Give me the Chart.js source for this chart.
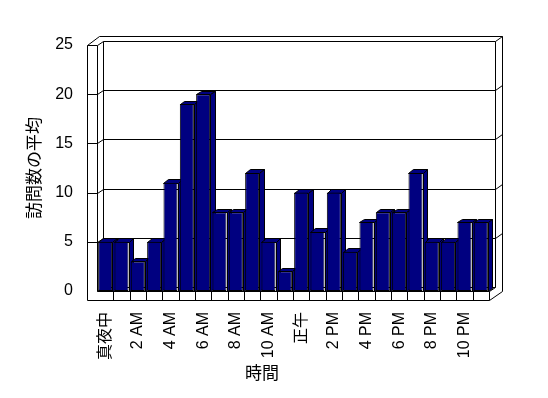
<!DOCTYPE html>
<html>
<head>
<meta charset="utf-8">
<script src="https://cdn.jsdelivr.net/npm/chart.js@4"></script>
<style>
  body { margin: 0; background: #fff; }
</style>
</head>
<body>
<canvas id="chart" width="548" height="398"></canvas>
<script>
const hours = [
  '真夜中', '1 AM', '2 AM', '3 AM', '4 AM', '5 AM', '6 AM', '7 AM', '8 AM', '9 AM', '10 AM', '11 AM',
  '正午', '1 PM', '2 PM', '3 PM', '4 PM', '5 PM', '6 PM', '7 PM', '8 PM', '9 PM', '10 PM', '11 PM'
];
const visits = [5, 5, 3, 5, 11, 19, 20, 8, 8, 12, 5, 2, 10, 6, 10, 4, 7, 8, 8, 12, 5, 5, 7, 7];
const yTicks = [0, 5, 10, 15, 20, 25];

const FONT = '"Liberation Sans", "Noto Sans CJK JP", sans-serif';

// oblique depth offsets for walls and bars
const WALL_IN = { x: 6, y: -4 };
const WALL_OUT = { x: 12.5, y: -9 };
const BAR_D = { x: 4.5, y: -3.5 };

const px = (v) => Math.round(v) + 0.5;

const box3d = {
  id: 'box3d',
  beforeDatasetsDraw(chart) {
    const { ctx, chartArea } = chart;
    const yScale = chart.scales.y;
    const xScale = chart.scales.x;
    const L = chartArea.left, R = chartArea.right;
    const T = yScale.getPixelForValue(yTicks[yTicks.length - 1]);
    const B = yScale.getPixelForValue(0);
    const LO = L - 10.5;
    const FB = B + 9;

    ctx.save();
    ctx.strokeStyle = '#000';
    ctx.lineWidth = 1;

    const line = (pts) => {
      ctx.beginPath();
      pts.forEach((p, i) => {
        if (i === 0) ctx.moveTo(px(p[0]), px(p[1]));
        else ctx.lineTo(px(p[0]), px(p[1]));
      });
      ctx.stroke();
    };

    // outer frame
    line([
      [LO, T], [LO + WALL_OUT.x, T + WALL_OUT.y], [R + WALL_OUT.x, T + WALL_OUT.y],
      [R + WALL_OUT.x, FB + WALL_OUT.y], [R, FB], [LO, FB], [LO, T]
    ]);

    // left wall inner edge and back wall edges
    line([[L, T], [L, B]]);
    line([[L + WALL_IN.x, T + WALL_IN.y], [L + WALL_IN.x, B + WALL_IN.y]]);
    line([[R + WALL_IN.x, T + WALL_IN.y], [R + WALL_IN.x, B + WALL_IN.y]]);

    // gridlines wrapping left wall, back wall and right edge
    yTicks.forEach((v) => {
      const y = yScale.getPixelForValue(v);
      if (v === 0) {
        line([[L, y], [R, y], [R + WALL_IN.x, y + WALL_IN.y]]);
        line([[L, y], [L + WALL_IN.x, y + WALL_IN.y], [R + WALL_IN.x, y + WALL_IN.y]]);
        return;
      }
      line([
        [LO, y], [L, y], [L + WALL_IN.x, y + WALL_IN.y],
        [R + WALL_IN.x, y + WALL_IN.y], [R + WALL_OUT.x, y + WALL_OUT.y]
      ]);
    });

    // floor front face dividers
    line([[R, B], [R, FB]]);
    for (let k = 1; k < hours.length; k++) {
      const x = (xScale.getPixelForTick(k - 1) + xScale.getPixelForTick(k)) / 2;
      line([[x, B], [x, FB]]);
    }

    // top and side faces of each bar
    const meta = chart.getDatasetMeta(0);
    ctx.fillStyle = '#000080';
    meta.data.forEach((bar) => {
      const x0 = bar.x - bar.width / 2;
      const x1 = bar.x + bar.width / 2;
      const yt = bar.y;
      const yb = bar.base;
      const faces = [
        [[x0, yt], [x1, yt], [x1 + BAR_D.x, yt + BAR_D.y], [x0 + BAR_D.x, yt + BAR_D.y]],
        [[x1, yt], [x1 + BAR_D.x, yt + BAR_D.y], [x1 + BAR_D.x, yb + BAR_D.y], [x1, yb]]
      ];
      faces.forEach((f) => {
        ctx.beginPath();
        f.forEach((p, i) => {
          if (i === 0) ctx.moveTo(px(p[0]), px(p[1]));
          else ctx.lineTo(px(p[0]), px(p[1]));
        });
        ctx.closePath();
        ctx.fill();
        ctx.stroke();
      });
    });

    ctx.restore();
  }
};

new Chart(document.getElementById('chart'), {
  type: 'bar',
  data: {
    labels: hours,
    datasets: [{
      label: '訪問数の平均',
      data: visits,
      backgroundColor: '#000080',
      borderColor: '#000000',
      borderWidth: 1,
      borderSkipped: false,
      barPercentage: 0.86,
      categoryPercentage: 1.0
    }]
  },
  options: {
    responsive: false,
    animation: false,
    layout: {
      padding: { left: 0, top: 45, right: 24, bottom: 0 }
    },
    plugins: {
      legend: { display: false },
      tooltip: { enabled: false },
      title: {
        display: true,
        text: '時間',
        position: 'bottom',
        color: '#000',
        font: { family: FONT, size: 17, weight: 'normal' },
        padding: { top: 4, bottom: 13 }
      }
    },
    scales: {
      x: {
        grid: { display: false, drawTicks: false },
        border: { display: false },
        ticks: {
          autoSkip: false,
          maxRotation: 90,
          minRotation: 90,
          padding: 21,
          color: '#000',
          font: { family: FONT, size: 16 },
          callback: function (v, i) {
            return i % 2 === 0 ? this.getLabelForValue(v) : '';
          }
        },
        afterFit: (s) => { s.height = 69.6; }
      },
      y: {
        min: 0,
        max: 25,
        grid: { display: false, drawTicks: false },
        border: { display: false },
        ticks: {
          stepSize: 5,
          padding: 24,
          color: '#000',
          font: { family: FONT, size: 16 }
        },
        title: {
          display: true,
          text: '訪問数の平均',
          color: '#000',
          font: { family: FONT, size: 17 },
          padding: { top: 25, bottom: 0 }
        },
        afterFit: (s) => { s.width = 97; }
      },
      y2: {
        position: 'right',
        grid: { display: false, drawTicks: false },
        border: { display: false },
        ticks: { display: false },
        afterFit: (s) => { s.width = 35; }
      }
    }
  },
  plugins: [box3d]
});
</script>
</body>
</html>
